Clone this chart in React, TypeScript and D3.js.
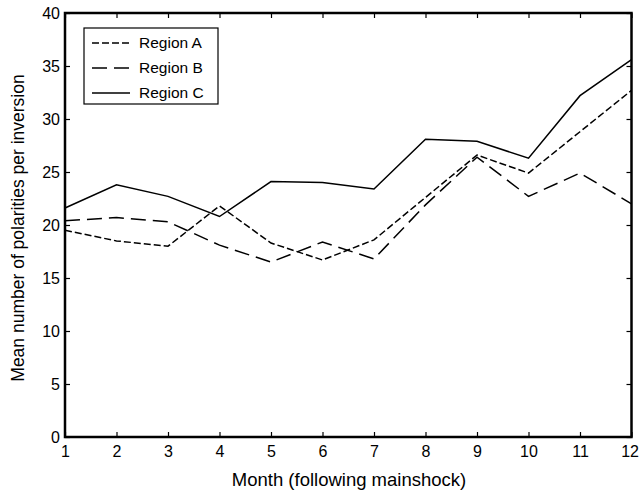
import React, { useEffect, useRef } from 'react';
import * as d3 from 'd3';

// data
const months = [1, 2, 3, 4, 5, 6, 7, 8, 9, 10, 11, 12];
const regionA = [19.5, 18.5, 18.0, 21.8, 18.3, 16.7, 18.6, 22.6, 26.6, 24.9, 28.8, 32.7];
const regionB = [20.4, 20.7, 20.3, 18.1, 16.5, 18.4, 16.8, 21.9, 26.4, 22.7, 24.9, 22.0];
const regionC = [21.6, 23.8, 22.7, 20.8, 24.1, 24.0, 23.4, 28.1, 27.9, 26.3, 32.2, 35.6];
const yTicks = [0, 5, 10, 15, 20, 25, 30, 35, 40];
const seriesNames = ['Region A', 'Region B', 'Region C'];

const width = 639;
const height = 493;
const font = '"Liberation Sans", Arial, Helvetica, sans-serif';

const App = () => {
  const ref = useRef<SVGSVGElement | null>(null);

  useEffect(() => {
    const svg = d3.select(ref.current);
    svg.selectAll('*').remove();

    const margin = { top: 13, right: 7.5, bottom: 56, left: 65 };
    const x = d3.scaleLinear().domain([1, 12]).range([margin.left, width - margin.right]);
    const y = d3.scaleLinear().domain([0, 40]).range([height - margin.bottom, margin.top]);

    const dashes = ['7,3', '15,7', null];
    const series = [regionA, regionB, regionC];

    // lines
    const line = d3.line<number>()
      .x((d, i) => x(months[i]))
      .y(d => y(d));

    series.forEach((s, i) => {
      svg.append('path')
        .datum(s)
        .attr('d', line)
        .attr('fill', 'none')
        .attr('stroke', '#000')
        .attr('stroke-width', 1.5)
        .attr('stroke-dasharray', dashes[i]);
    });

    // axes, ticks inward on all four sides
    const tickLen = 5;
    const axisBottom = d3.axisBottom(x).tickValues(months).tickSize(-tickLen).tickPadding(9);
    const axisTop = d3.axisTop(x).tickValues(months).tickSize(-tickLen).tickFormat(() => '');
    const axisLeft = d3.axisLeft(y).tickValues(yTicks).tickSize(-tickLen).tickPadding(5);
    const axisRight = d3.axisRight(y).tickValues(yTicks).tickSize(-tickLen).tickFormat(() => '');

    const gb = svg.append('g').attr('transform', `translate(0,${y(0)})`).call(axisBottom);
    const gt = svg.append('g').attr('transform', `translate(0,${y(40)})`).call(axisTop);
    const gl = svg.append('g').attr('transform', `translate(${x(1)},0)`).call(axisLeft);
    const gr = svg.append('g').attr('transform', `translate(${x(12)},0)`).call(axisRight);

    [gb, gt, gl, gr].forEach(g => {
      g.select('.domain').remove();
      g.selectAll('line').attr('stroke', '#000').attr('stroke-width', 1.2);
      g.selectAll('text')
        .attr('font-family', font)
        .attr('font-size', 16)
        .attr('fill', '#000');
    });

    // last month label sits against the page edge
    gb.selectAll('text')
      .filter(d => d === 12)
      .attr('text-anchor', 'end')
      .attr('x', width - 0.5 - x(12));

    // frame
    svg.append('rect')
      .attr('x', x(1))
      .attr('y', y(40))
      .attr('width', x(12) - x(1))
      .attr('height', y(0) - y(40))
      .attr('fill', 'none')
      .attr('stroke', '#000')
      .attr('stroke-width', 2.5);

    // axis titles
    svg.append('text')
      .attr('x', 349)
      .attr('y', 486)
      .attr('text-anchor', 'middle')
      .attr('font-family', font)
      .attr('font-size', 18.5)
      .text('Month (following mainshock)');

    svg.append('text')
      .attr('transform', `translate(24,228) rotate(-90)`)
      .attr('text-anchor', 'middle')
      .attr('font-family', font)
      .attr('font-size', 17.5)
      .text('Mean number of polarities per inversion');

    // legend
    const legend = svg.append('g').attr('transform', 'translate(84,28)');
    legend.append('rect')
      .attr('width', 134)
      .attr('height', 76)
      .attr('fill', '#fff')
      .attr('stroke', '#000')
      .attr('stroke-width', 1.2);

    seriesNames.forEach((name, i) => {
      const ly = 15 + i * 25;
      legend.append('line')
        .attr('x1', 8)
        .attr('x2', 46)
        .attr('y1', ly)
        .attr('y2', ly)
        .attr('stroke', '#000')
        .attr('stroke-width', 1.5)
        .attr('stroke-dasharray', dashes[i]);
      legend.append('text')
        .attr('x', 55)
        .attr('y', ly)
        .attr('dy', '0.35em')
        .attr('font-family', font)
        .attr('font-size', 15.5)
        .text(name);
    });
  }, []);

  return (
    <svg
      ref={ref}
      width={width}
      height={height}
      style={{ position: 'absolute', left: 0, top: 0, background: '#fff' }}
    />
  );
};

export default App;
